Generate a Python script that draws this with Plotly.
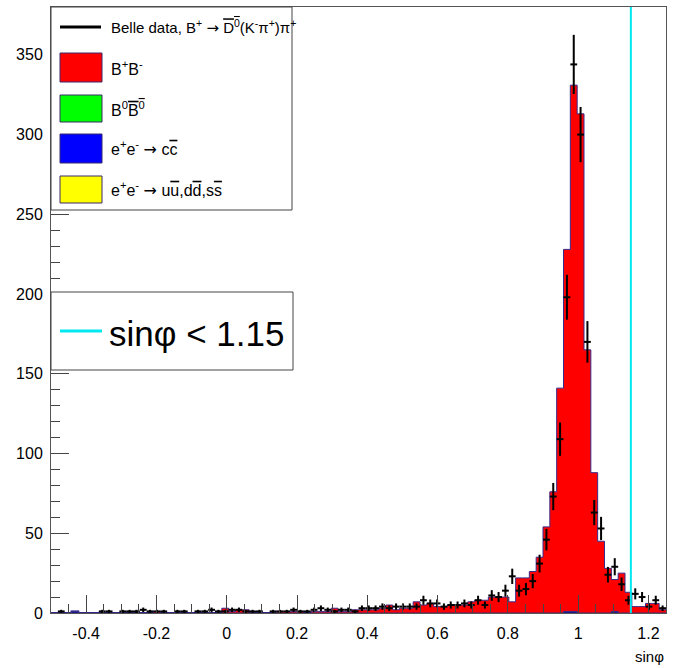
import numpy as np
import plotly.graph_objects as go

# ---- binning of sin(phi) ----
x_min, x_max, n_bins = -0.5, 1.25, 90
edges = np.linspace(x_min, x_max, n_bins + 1)
bin_w = edges[1] - edges[0]
centers = 0.5 * (edges[:-1] + edges[1:])

# ---- Belle data counts per bin ----
data_counts = [
    0, 1, 0, 0, 0, 0, 0, 1, 1, 0,
    1, 1, 1, 2, 1, 1, 1, 0, 1, 1,
    0, 1, 1, 2, 1, 1, 2, 2, 1, 1,
    1, 0, 1, 1, 1, 2, 1, 1, 2, 3,
    2, 1, 2, 2, 1, 3, 3, 3, 4, 3,
    4, 4, 4, 4, 8, 6, 6, 4, 5, 5,
    6, 5, 8, 5, 11, 10, 14, 23, 14, 15,
    20, 31, 46, 73, 109, 198, 344, 300, 170, 63,
    53, 24, 29, 18, 8, 12, 10, 4, 8, 3,
]

# ---- MC components (stacked) ----
bplus_bminus = [
    0, 0, 0, 0, 0, 0, 0, 0, 0, 0,
    0, 0, 0, 0, 0, 1, 0, 0, 0, 0,
    0, 0, 0, 0, 0, 3, 1, 2, 2, 0,
    0, 0, 0, 1, 1, 1, 1, 0, 1, 1,
    1, 3, 1, 1, 2, 2, 2, 2, 3, 5,
    2, 3, 3, 7, 5, 6, 4, 4, 5, 5,
    5, 7, 8, 8, 10, 10, 10, 7, 22, 22,
    26, 35, 54, 76, 141, 227, 330, 313, 165, 88,
    45, 28, 20, 25, 13, 4, 4, 6, 6, 2,
]
b0_b0bar = [
    0, 0, 0, 0, 0, 0, 0, 0, 0, 0,
    0, 0, 0, 0, 0, 0, 0, 0, 0, 0,
    0, 0, 0, 0, 0, 0, 0, 0, 0, 0,
    0, 0, 0, 0, 0, 0, 0, 0, 0, 0,
    0, 0, 0, 0, 0, 0, 0, 0, 0, 0,
    0, 0, 0, 0, 0, 0, 0, 0, 0, 0,
    0, 0, 0, 0, 0, 0, 0, 0, 0, 0,
    0, 0, 0, 0, 0, 0, 0, 0, 0, 0,
    0, 0, 0, 0, 0, 0, 0, 0, 0, 0,
]
ccbar = [
    0, 0, 0, 1, 0, 0, 0, 0, 0, 0,
    0, 0, 0, 0, 0, 0, 0, 0, 0, 0,
    0, 0, 0, 0, 0, 0, 0, 0, 0, 0,
    0, 0, 0, 0, 0, 0, 0, 0, 0, 0,
    0, 0, 0, 0, 0, 0, 0, 0, 0, 0,
    0, 0, 0, 0, 0, 0, 0, 0, 0, 0,
    0, 0, 0, 0, 0, 0, 0, 0, 0, 0,
    0, 0, 0, 0, 0, 1, 1, 0, 0, 0,
    0, 0, 1, 0, 0, 0, 0, 0, 0, 0,
]
uds = [
    0, 0, 0, 0, 0, 0, 0, 0, 0, 0,
    0, 0, 0, 0, 0, 0, 0, 0, 0, 0,
    0, 0, 0, 0, 0, 0, 0, 0, 0, 0,
    0, 0, 0, 0, 0, 0, 0, 0, 0, 0,
    0, 0, 0, 0, 0, 0, 0, 0, 0, 0,
    0, 0, 0, 0, 0, 0, 0, 0, 0, 0,
    0, 0, 0, 0, 0, 0, 0, 0, 0, 0,
    0, 0, 0, 0, 0, 0, 0, 0, 0, 0,
    0, 0, 0, 0, 0, 0, 0, 0, 0, 0,
]

x_tickvals = [-0.4, -0.2, 0, 0.2, 0.4, 0.6, 0.8, 1.0, 1.2]
x_ticktext = ["-0.4", "-0.2", "0", "0.2", "0.4", "0.6", "0.8", "1", "1.2"]

cut_value = 1.15

FONT = "Liberation Sans, Arial, Helvetica"
RED, GREEN, BLUE, YELLOW, CYAN = "#ff0000", "#00ff00", "#0000ff", "#ffff00", "#00e8f0"
OUTLINE = "#3a2a8a"

fig = go.Figure()

# stacked step histograms (bottom to top)
stack = [
    (uds, YELLOW, "#333333", 1),
    (ccbar, BLUE, "#1a1a80", 2),
    (b0_b0bar, GREEN, OUTLINE, 1),
    (bplus_bminus, RED, OUTLINE, 1),
]
cum = np.zeros(n_bins)
for i, (vals, fillc, linec, lw) in enumerate(stack):
    cum = cum + np.asarray(vals, dtype=float)
    ystep = list(cum) + [cum[-1]]
    fig.add_trace(go.Scatter(
        x=edges, y=ystep, mode="lines",
        line=dict(shape="hv", color=linec, width=lw),
        fill="tozeroy" if i == 0 else "tonexty",
        fillcolor=fillc, showlegend=False, hoverinfo="skip",
    ))

# data points with Poisson errors
counts = np.asarray(data_counts, dtype=float)
mask = counts > 0
fig.add_trace(go.Scatter(
    x=centers[mask], y=counts[mask], mode="markers",
    marker=dict(size=2, color="black"),
    error_y=dict(type="data", array=np.sqrt(counts[mask]), thickness=2, width=0, color="black"),
    error_x=dict(type="constant", value=bin_w / 2, thickness=2, width=0, color="black"),
    showlegend=False,
))

# selection cut line
fig.add_shape(type="line", x0=cut_value, x1=cut_value, y0=0, y1=1, yref="paper",
              line=dict(color=CYAN, width=2))

# ---- legends drawn in pixel units of the frame ----
L, R, T, B = 51, 666, 7, 613
def px(x):
    return (x - L) / (R - L)
def py(y):
    return (B - y) / (B - T)

def box(x0, y0, x1, y1, fill, line="#333333", w=1):
    fig.add_shape(type="rect", xref="paper", yref="paper",
                  x0=px(x0), x1=px(x1), y0=py(y1), y1=py(y0),
                  fillcolor=fill, line=dict(color=line, width=w), layer="above")

def label(x, y, text, size):
    fig.add_annotation(xref="paper", yref="paper", x=px(x), y=py(y), text=text,
                       showarrow=False, xanchor="left", yanchor="middle",
                       font=dict(family=FONT, size=size, color="black"))

OV = "<span style='text-decoration:overline'>%s</span>"
ARROW = "<span style='font-family:DejaVu Sans'>→</span>"

box(51, 7, 292, 210, "white", "#444444")
fig.add_shape(type="line", xref="paper", yref="paper", x0=px(60), x1=px(101), y0=py(27), y1=py(27),
              line=dict(color="black", width=3), layer="above")
label(109, 27, "Belle data, B<sup>+</sup> " + ARROW + " " + OV % "D<sup>0</sup>"
      + "(K<sup>-</sup>π<sup>+</sup>)π<sup>+</sup>", 15)
entries = [
    (53, 82, RED, "B<sup>+</sup>B<sup>-</sup>"),
    (95, 122, GREEN, "B<sup>0</sup>" + OV % "B<sup>0</sup>"),
    (134, 163, BLUE, "e<sup>+</sup>e<sup>-</sup> " + ARROW + " c" + OV % "c"),
    (176, 203, YELLOW, "e<sup>+</sup>e<sup>-</sup> " + ARROW + " u" + OV % "u"
     + ",d" + OV % "d" + ",s" + OV % "s"),
]
for y0, y1, c, t in entries:
    box(60, y0, 102, y1, c, "#3a2a6a")
    label(109, (y0 + y1) / 2, t, 16)

box(51, 292, 293, 370, "white", "#444444")
fig.add_shape(type="line", xref="paper", yref="paper", x0=px(60), x1=px(102), y0=py(331), y1=py(331),
              line=dict(color=CYAN, width=3), layer="above")
label(107, 333, "sinφ &lt; 1.15", 35)

# axis title at the right end
fig.add_annotation(xref="paper", yref="paper", x=1.0, y=py(656), text="sinφ", showarrow=False,
                   xanchor="right", yanchor="middle", font=dict(family=FONT, size=15, color="black"))

axis_common = dict(
    showgrid=False, zeroline=False, showline=True, linecolor="#555555", linewidth=1, mirror=True,
    ticks="inside", ticklen=18, tickwidth=1, tickcolor="#444444",
    tickfont=dict(family=FONT, size=16, color="black"),
)
fig.update_xaxes(range=[x_min, x_max], tickvals=x_tickvals, ticktext=x_ticktext,
                 minor=dict(dtick=0.05, tick0=0, ticks="inside", ticklen=9, tickcolor="#444444"),
                 ticklabelstandoff=6, **axis_common)
fig.update_yaxes(range=[0, 380], dtick=50, tick0=0,
                 minor=dict(dtick=10, ticks="inside", ticklen=9, tickcolor="#444444"),
                 ticklabelstandoff=4, **axis_common)

fig.update_layout(
    width=682, height=668,
    margin=dict(l=L, r=682 - R, t=T, b=668 - B),
    plot_bgcolor="white", paper_bgcolor="white",
    showlegend=False,
)

fig.write_html("out.html")
